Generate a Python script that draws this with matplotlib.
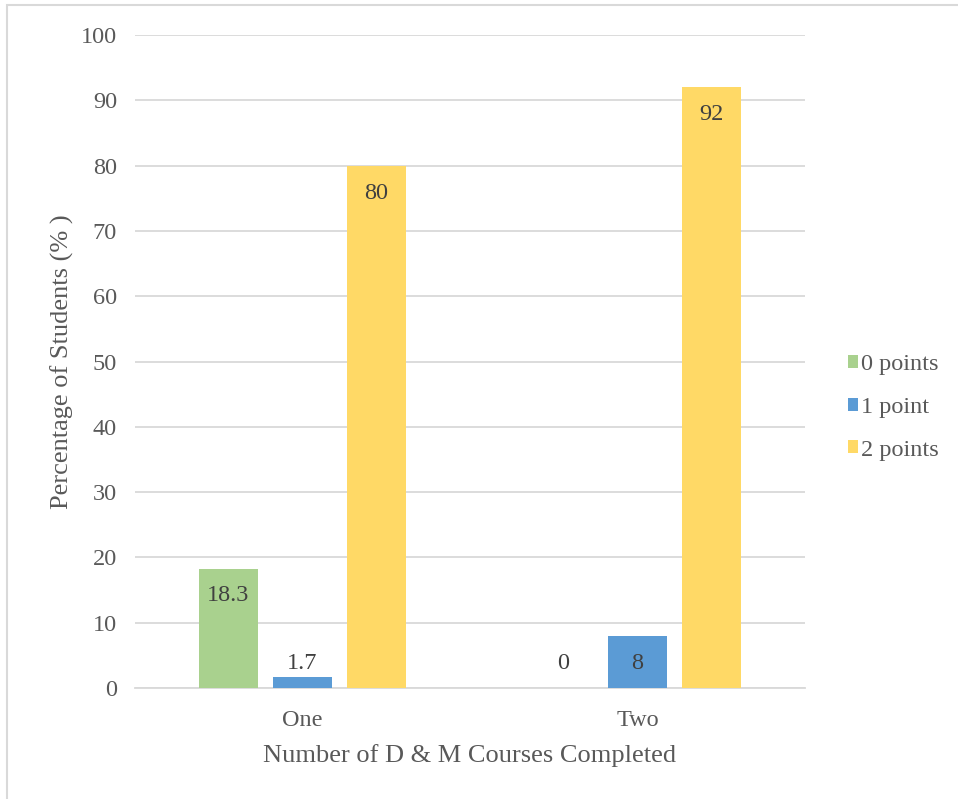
import matplotlib
matplotlib.use('Agg')
import matplotlib.pyplot as plt
from matplotlib.patches import Rectangle
import numpy as np

# 데이터
categories = ['One', 'Two']
series_names = ['0 points', '1 point', '2 points']
zero_points = [18.3, 0]
one_point = [1.7, 8]
two_points = [80, 92]
series_values = [zero_points, one_point, two_points]
colors = ['#A9D18E', '#5B9BD5', '#FFD966']

plt.rcParams['font.family'] = ['Liberation Serif', 'DejaVu Serif']
text_color = '#595959'

W, H = 958, 799
fig = plt.figure(figsize=(W / 100, H / 100), dpi=100)
ax = fig.add_axes([135 / W, 1 - 688 / H, (805 - 135) / W, (688 - 35) / H])

x = np.arange(len(categories))
bar_w = 0.176
step = 0.221

for i, (name, vals, c) in enumerate(zip(series_names, series_values, colors)):
    pos = x + (i - 1) * step
    ax.bar(pos, vals, width=bar_w, color=c, label=name, zorder=3)
    for p, v in zip(pos, vals):
        # 라벨 위치 (엑셀 inside end 흉내)
        ly = max(v - 4.2, 3.8)
        ax.text(p, ly, f'{v:g}', ha='center', va='center', fontsize=17.5,
                color='#404040', zorder=4)

ax.set_xlim(-0.5, 1.5)
ax.set_ylim(0, 100)
ax.set_yticks(range(0, 101, 10))
ax.set_xticks(x)
ax.set_xticklabels(categories)
ax.yaxis.grid(True, color='#D9D9D9', linewidth=1.3, zorder=0)
ax.tick_params(axis='both', length=0, labelsize=17.5, colors=text_color)
ax.tick_params(axis='y', pad=13)
ax.tick_params(axis='x', pad=15.5)
for s in ['top', 'right', 'left']:
    ax.spines[s].set_visible(False)
ax.spines['bottom'].set_color('#D9D9D9')
ax.spines['bottom'].set_linewidth(1.3)

ax.set_xlabel('Number of D & M Courses Completed', fontsize=19, color=text_color, labelpad=10)
ax.set_ylabel('Percentage of Students (% )', fontsize=19, color=text_color, labelpad=5)

leg = ax.legend(loc='center left', bbox_to_anchor=(1.049, 0.43), frameon=False,
                fontsize=17.5, handlelength=0.45, handleheight=0.45, handletextpad=0.1,
                labelspacing=0.9, borderaxespad=0)
for t in leg.get_texts():
    t.set_color(text_color)

# 테두리
fig.patches.append(Rectangle((6.5 / W, -0.1), 1.2, 1 - 5 / H + 0.1, transform=fig.transFigure,
                             fill=False, edgecolor='#D9D9D9', linewidth=1.5))

fig.savefig('out.png', dpi=100)
